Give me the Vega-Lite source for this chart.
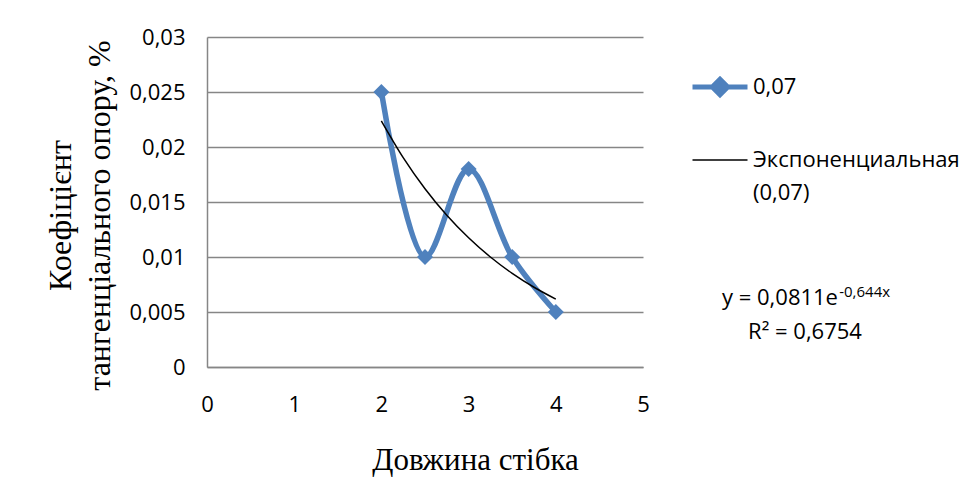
{
  "$schema": "https://vega.github.io/schema/vega-lite/v6.json",
  "width": 436,
  "height": 330,
  "autosize": "none",
  "padding": {"left": 207, "top": 37, "right": 334, "bottom": 123},
  "background": "white",
  "config": {
    "view": {"stroke": null}
  },
  "datasets": {
    "series": [
      {"x": 2, "y": 0.025, "s": "0,07"},
      {"x": 2.5, "y": 0.01, "s": "0,07"},
      {"x": 3, "y": 0.018, "s": "0,07"},
      {"x": 3.5, "y": 0.01, "s": "0,07"},
      {"x": 4, "y": 0.005, "s": "0,07"}
    ],
    "trend": [
      {"x": 2, "y": 0.02237, "s": "Экспоненциальная (0,07)"},
      {"x": 2.25, "y": 0.01904, "s": "Экспоненциальная (0,07)"},
      {"x": 2.5, "y": 0.01621, "s": "Экспоненциальная (0,07)"},
      {"x": 2.75, "y": 0.0138, "s": "Экспоненциальная (0,07)"},
      {"x": 3, "y": 0.01175, "s": "Экспоненциальная (0,07)"},
      {"x": 3.25, "y": 0.01, "s": "Экспоненциальная (0,07)"},
      {"x": 3.5, "y": 0.00851, "s": "Экспоненциальная (0,07)"},
      {"x": 3.75, "y": 0.00725, "s": "Экспоненциальная (0,07)"},
      {"x": 4, "y": 0.00617, "s": "Экспоненциальная (0,07)"}
    ],
    "eq": [
      {"x": 7.236, "y": 0.00623, "t": "y = 0,0811e"}
    ],
    "sup": [
      {"x": 7.25, "y": 0.00682, "t": "-0,644x"}
    ],
    "r2": [
      {"x": 6.858, "y": 0.00318, "t": "R² = 0,6754"}
    ]
  },
  "layer": [
    {
      "data": {"name": "series"},
      "mark": {"type": "line", "interpolate": "catmull-rom", "strokeWidth": 5.5, "point": {"shape": "diamond", "size": 256, "filled": true, "color": "#4F81BD"}},
      "encoding": {
        "x": {"field": "x", "type": "quantitative", "scale": {"domain": [0, 5]},
          "axis": {"values": [0, 1, 2, 3, 4, 5], "format": "d", "grid": false, "ticks": false, "labelFlush": false, "domainColor": "#868686", "domainWidth": 1.5, "labelPadding": 27,
            "labelFont": "Open Sans", "labelFontSize": 22, "labelColor": "black",
            "title": "Довжина стібка", "titleFont": "Liberation Serif", "titleFontSize": 31, "titleFontWeight": "normal", "titleColor": "black",
            "titleX": 268, "titleY": 93, "titleBaseline": "middle", "titleAnchor": null}},
        "y": {"field": "y", "type": "quantitative", "scale": {"domain": [0, 0.03]},
          "axis": {"values": [0, 0.005, 0.01, 0.015, 0.02, 0.025, 0.03], "labelExpr": "replace(format(datum.value, ''), '.', ',')", "grid": true, "gridColor": "#868686", "gridWidth": 1.5, "ticks": false, "labelFlush": false, "domainColor": "#868686", "domainWidth": 1.5, "labelPadding": 22,
            "labelFont": "Open Sans", "labelFontSize": 22, "labelColor": "black",
            "title": ["Коефіцієнт", "тангенціального опору, %"], "titleFont": "Liberation Serif", "titleFontSize": 32, "titleFontWeight": "normal", "titleColor": "black",
            "titleX": -147, "titleY": 178, "titleAngle": -90, "titleAlign": "center", "titleBaseline": "middle", "titleLineHeight": 39}},
        "color": {"field": "s", "type": "nominal",
          "scale": {"domain": ["0,07", "Экспоненциальная (0,07)"], "range": ["#4F81BD", "#000000"]},
          "legend": {"title": null, "orient": "none", "legendX": 502, "legendY": 39, "symbolType": "stroke", "symbolSize": 3025, "symbolStrokeWidth": 5, "labelFont": "Open Sans", "labelFontSize": 22, "labelColor": "black", "labelLimit": 300, "rowPadding": 44, "labelOffset": 22, "labelBaseline": "middle",
            "labelExpr": "datum.label == 'Экспоненциальная (0,07)' ? ['Экспоненциальная', '(0,07)'] : datum.label",
            "encode": {
              "labels": {"update": {"lineHeight": {"value": 33}}},
              "symbols": {"update": {
              "shape": {"signal": "datum.label == '0,07' ? 'M-1,0L1,0M-0.28,0L0,-0.28L0.28,0L0,0.28Z' : 'stroke'"},
              "fill": {"signal": "datum.label == '0,07' ? '#4F81BD' : 'transparent'"},
              "strokeWidth": {"signal": "datum.label == '0,07' ? 5 : 1.5"}
            }}}}}
      }
    },
    {
      "data": {"name": "trend"},
      "mark": {"type": "line", "interpolate": "monotone", "strokeWidth": 1.5},
      "encoding": {
        "x": {"field": "x", "type": "quantitative"},
        "y": {"field": "y", "type": "quantitative"},
        "color": {"field": "s", "type": "nominal"}
      }
    },
    {
      "data": {"name": "eq"},
      "mark": {"type": "text", "align": "right", "baseline": "middle", "font": "Open Sans", "fontSize": 22, "clip": false, "color": "black"},
      "encoding": {"x": {"field": "x", "type": "quantitative"}, "y": {"field": "y", "type": "quantitative"}, "text": {"field": "t"}}
    },
    {
      "data": {"name": "sup"},
      "mark": {"type": "text", "align": "left", "baseline": "middle", "font": "Open Sans", "fontSize": 15, "clip": false, "color": "black"},
      "encoding": {"x": {"field": "x", "type": "quantitative"}, "y": {"field": "y", "type": "quantitative"}, "text": {"field": "t"}}
    },
    {
      "data": {"name": "r2"},
      "mark": {"type": "text", "align": "center", "baseline": "middle", "font": "Open Sans", "fontSize": 22, "clip": false, "color": "black"},
      "encoding": {"x": {"field": "x", "type": "quantitative"}, "y": {"field": "y", "type": "quantitative"}, "text": {"field": "t"}}
    }
  ]
}
